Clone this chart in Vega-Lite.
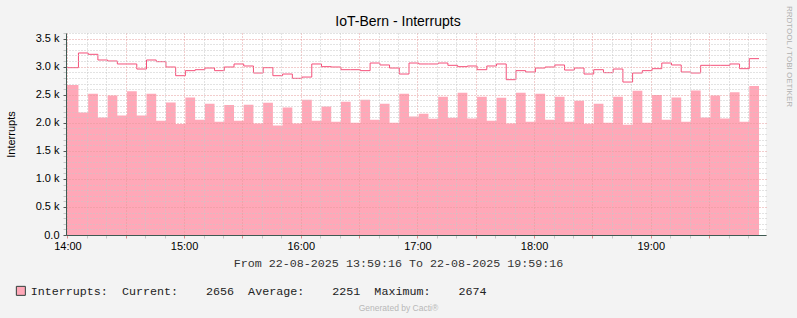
{
  "$schema": "https://vega.github.io/schema/vega-lite/v6.json",
  "width": 700,
  "height": 202,
  "autosize": "none",
  "padding": {"left": 66, "top": 33, "right": 31, "bottom": 83},
  "background": "#f3f3f3",
  "title": {"text": "IoT-Bern - Interrupts", "anchor": "middle", "frame": "group", "dx": -18, "dy": 30, "offset": 6, "font": "Liberation Sans", "fontSize": 14, "fontWeight": "normal", "color": "#000000"},
  "config": {"view": {"fill": "#ffffff", "stroke": null}},
  "data": {"values": [
    {"time": "2025-08-22T13:59:16", "interrupts": 2674, "peak": 2982},
    {"time": "2025-08-22T14:05:40", "interrupts": 2184, "peak": 3244},
    {"time": "2025-08-22T14:10:40", "interrupts": 2518, "peak": 3220},
    {"time": "2025-08-22T14:15:40", "interrupts": 2095, "peak": 3119},
    {"time": "2025-08-22T14:20:40", "interrupts": 2488, "peak": 3101},
    {"time": "2025-08-22T14:25:40", "interrupts": 2131, "peak": 3048},
    {"time": "2025-08-22T14:30:40", "interrupts": 2560, "peak": 3048},
    {"time": "2025-08-22T14:35:40", "interrupts": 2131, "peak": 2958},
    {"time": "2025-08-22T14:40:40", "interrupts": 2518, "peak": 3119},
    {"time": "2025-08-22T14:45:40", "interrupts": 2036, "peak": 3089},
    {"time": "2025-08-22T14:50:40", "interrupts": 2363, "peak": 2994},
    {"time": "2025-08-22T14:55:40", "interrupts": 1976, "peak": 2839},
    {"time": "2025-08-22T15:00:40", "interrupts": 2452, "peak": 2929},
    {"time": "2025-08-22T15:05:40", "interrupts": 2054, "peak": 2946},
    {"time": "2025-08-22T15:10:40", "interrupts": 2339, "peak": 2976},
    {"time": "2025-08-22T15:15:40", "interrupts": 2018, "peak": 2929},
    {"time": "2025-08-22T15:20:40", "interrupts": 2315, "peak": 2994},
    {"time": "2025-08-22T15:25:40", "interrupts": 2036, "peak": 3048},
    {"time": "2025-08-22T15:30:40", "interrupts": 2321, "peak": 3012},
    {"time": "2025-08-22T15:35:40", "interrupts": 1988, "peak": 2887},
    {"time": "2025-08-22T15:40:40", "interrupts": 2357, "peak": 2982},
    {"time": "2025-08-22T15:45:40", "interrupts": 1952, "peak": 2839},
    {"time": "2025-08-22T15:50:40", "interrupts": 2274, "peak": 2869},
    {"time": "2025-08-22T15:55:40", "interrupts": 1988, "peak": 2792},
    {"time": "2025-08-22T16:00:40", "interrupts": 2411, "peak": 2815},
    {"time": "2025-08-22T16:05:40", "interrupts": 2036, "peak": 3048},
    {"time": "2025-08-22T16:10:40", "interrupts": 2292, "peak": 3000},
    {"time": "2025-08-22T16:15:40", "interrupts": 2018, "peak": 2994},
    {"time": "2025-08-22T16:20:40", "interrupts": 2375, "peak": 2946},
    {"time": "2025-08-22T16:25:40", "interrupts": 2000, "peak": 2946},
    {"time": "2025-08-22T16:30:40", "interrupts": 2411, "peak": 2929},
    {"time": "2025-08-22T16:35:40", "interrupts": 2054, "peak": 3065},
    {"time": "2025-08-22T16:40:40", "interrupts": 2339, "peak": 3030},
    {"time": "2025-08-22T16:45:40", "interrupts": 2000, "peak": 2976},
    {"time": "2025-08-22T16:50:40", "interrupts": 2518, "peak": 2869},
    {"time": "2025-08-22T16:55:40", "interrupts": 2113, "peak": 3065},
    {"time": "2025-08-22T17:00:40", "interrupts": 2161, "peak": 3048},
    {"time": "2025-08-22T17:05:40", "interrupts": 2071, "peak": 3048},
    {"time": "2025-08-22T17:10:40", "interrupts": 2464, "peak": 3065},
    {"time": "2025-08-22T17:15:40", "interrupts": 2089, "peak": 3024},
    {"time": "2025-08-22T17:20:40", "interrupts": 2536, "peak": 3000},
    {"time": "2025-08-22T17:25:40", "interrupts": 2077, "peak": 3012},
    {"time": "2025-08-22T17:30:40", "interrupts": 2464, "peak": 2946},
    {"time": "2025-08-22T17:35:40", "interrupts": 2036, "peak": 3012},
    {"time": "2025-08-22T17:40:40", "interrupts": 2446, "peak": 3048},
    {"time": "2025-08-22T17:45:40", "interrupts": 1988, "peak": 2768},
    {"time": "2025-08-22T17:50:40", "interrupts": 2536, "peak": 2929},
    {"time": "2025-08-22T17:55:40", "interrupts": 2018, "peak": 2905},
    {"time": "2025-08-22T18:00:40", "interrupts": 2518, "peak": 2976},
    {"time": "2025-08-22T18:05:40", "interrupts": 2054, "peak": 2994},
    {"time": "2025-08-22T18:10:40", "interrupts": 2464, "peak": 3030},
    {"time": "2025-08-22T18:15:40", "interrupts": 2018, "peak": 2940},
    {"time": "2025-08-22T18:20:40", "interrupts": 2393, "peak": 2976},
    {"time": "2025-08-22T18:25:40", "interrupts": 1982, "peak": 2869},
    {"time": "2025-08-22T18:30:40", "interrupts": 2339, "peak": 2946},
    {"time": "2025-08-22T18:35:40", "interrupts": 2000, "peak": 2893},
    {"time": "2025-08-22T18:40:40", "interrupts": 2464, "peak": 2958},
    {"time": "2025-08-22T18:45:40", "interrupts": 1964, "peak": 2726},
    {"time": "2025-08-22T18:50:40", "interrupts": 2571, "peak": 2887},
    {"time": "2025-08-22T18:55:40", "interrupts": 2000, "peak": 2929},
    {"time": "2025-08-22T19:00:40", "interrupts": 2494, "peak": 2964},
    {"time": "2025-08-22T19:05:40", "interrupts": 2054, "peak": 3065},
    {"time": "2025-08-22T19:10:40", "interrupts": 2452, "peak": 3030},
    {"time": "2025-08-22T19:15:40", "interrupts": 2018, "peak": 2905},
    {"time": "2025-08-22T19:20:40", "interrupts": 2577, "peak": 2887},
    {"time": "2025-08-22T19:25:40", "interrupts": 2095, "peak": 3024},
    {"time": "2025-08-22T19:30:40", "interrupts": 2488, "peak": 3024},
    {"time": "2025-08-22T19:35:40", "interrupts": 2077, "peak": 3024},
    {"time": "2025-08-22T19:40:40", "interrupts": 2542, "peak": 3048},
    {"time": "2025-08-22T19:45:40", "interrupts": 2018, "peak": 2964},
    {"time": "2025-08-22T19:50:40", "interrupts": 2656, "peak": 3143},
    {"time": "2025-08-22T19:55:40", "interrupts": 2656, "peak": 3143}
  ]},
  "resolve": {"axis": {"x": "independent", "y": "independent"}},
  "layer": [
    {
      "mark": {"type": "area", "interpolate": "step-after"},
      "encoding": {
        "x": {
          "field": "time", "type": "temporal",
          "scale": {"domain": [{"year": 2025, "month": 8, "date": 22, "hours": 13, "minutes": 59, "seconds": 16}, {"year": 2025, "month": 8, "date": 22, "hours": 19, "minutes": 59, "seconds": 16}], "nice": false},
          "axis": {
            "orient": "bottom",
            "zindex": 1,
            "values": [
              {"year": 2025, "month": 8, "date": 22, "hours": 14, "minutes": 0},
              {"year": 2025, "month": 8, "date": 22, "hours": 14, "minutes": 10},
              {"year": 2025, "month": 8, "date": 22, "hours": 14, "minutes": 20},
              {"year": 2025, "month": 8, "date": 22, "hours": 14, "minutes": 30},
              {"year": 2025, "month": 8, "date": 22, "hours": 14, "minutes": 40},
              {"year": 2025, "month": 8, "date": 22, "hours": 14, "minutes": 50},
              {"year": 2025, "month": 8, "date": 22, "hours": 15, "minutes": 0},
              {"year": 2025, "month": 8, "date": 22, "hours": 15, "minutes": 10},
              {"year": 2025, "month": 8, "date": 22, "hours": 15, "minutes": 20},
              {"year": 2025, "month": 8, "date": 22, "hours": 15, "minutes": 30},
              {"year": 2025, "month": 8, "date": 22, "hours": 15, "minutes": 40},
              {"year": 2025, "month": 8, "date": 22, "hours": 15, "minutes": 50},
              {"year": 2025, "month": 8, "date": 22, "hours": 16, "minutes": 0},
              {"year": 2025, "month": 8, "date": 22, "hours": 16, "minutes": 10},
              {"year": 2025, "month": 8, "date": 22, "hours": 16, "minutes": 20},
              {"year": 2025, "month": 8, "date": 22, "hours": 16, "minutes": 30},
              {"year": 2025, "month": 8, "date": 22, "hours": 16, "minutes": 40},
              {"year": 2025, "month": 8, "date": 22, "hours": 16, "minutes": 50},
              {"year": 2025, "month": 8, "date": 22, "hours": 17, "minutes": 0},
              {"year": 2025, "month": 8, "date": 22, "hours": 17, "minutes": 10},
              {"year": 2025, "month": 8, "date": 22, "hours": 17, "minutes": 20},
              {"year": 2025, "month": 8, "date": 22, "hours": 17, "minutes": 30},
              {"year": 2025, "month": 8, "date": 22, "hours": 17, "minutes": 40},
              {"year": 2025, "month": 8, "date": 22, "hours": 17, "minutes": 50},
              {"year": 2025, "month": 8, "date": 22, "hours": 18, "minutes": 0},
              {"year": 2025, "month": 8, "date": 22, "hours": 18, "minutes": 10},
              {"year": 2025, "month": 8, "date": 22, "hours": 18, "minutes": 20},
              {"year": 2025, "month": 8, "date": 22, "hours": 18, "minutes": 30},
              {"year": 2025, "month": 8, "date": 22, "hours": 18, "minutes": 40},
              {"year": 2025, "month": 8, "date": 22, "hours": 18, "minutes": 50},
              {"year": 2025, "month": 8, "date": 22, "hours": 19, "minutes": 0},
              {"year": 2025, "month": 8, "date": 22, "hours": 19, "minutes": 10},
              {"year": 2025, "month": 8, "date": 22, "hours": 19, "minutes": 20},
              {"year": 2025, "month": 8, "date": 22, "hours": 19, "minutes": 30},
              {"year": 2025, "month": 8, "date": 22, "hours": 19, "minutes": 40},
              {"year": 2025, "month": 8, "date": 22, "hours": 19, "minutes": 50}
            ],
            "labelExpr": "minutes(datum.value) === 0 ? timeFormat(datum.value, '%H:%M') : ''",
            "labelOverlap": false,
            "labelFlush": false,
            "labelFont": "Liberation Sans",
            "labelFontSize": 11,
            "labelColor": "#000000",
            "labelPadding": 2,
            "grid": true,
            "gridColor": {"condition": {"test": "minutes(datum.value) % 30 === 0", "value": "#e49a9a"}, "value": "#c6c6c6"},
            "gridDash": [1, 2],
            "tickSize": 3,
            "tickColor": {"condition": {"test": "minutes(datum.value) % 30 === 0", "value": "#d98a8a"}, "value": "#c6c6c6"},
            "domainColor": "#3e5a52",
            "title": "From 22-08-2025 13:59:16 To 22-08-2025 19:59:16",
            "titleFont": "Liberation Mono",
            "titleFontSize": 11.7,
            "titleFontWeight": "normal",
            "titleColor": "#333333",
            "titleX": 332,
            "titleY": 27,
            "titleAlign": "center",
            "titleBaseline": "middle"
          }
        },
        "y": {
          "field": "interrupts", "type": "quantitative",
          "scale": {"domain": [0, 3600], "nice": false},
          "axis": {
            "orient": "left",
            "zindex": 1,
            "tickCount": 36,
            "labelExpr": "datum.value === 0 ? '0.0' : (datum.value % 500 === 0 ? format(datum.value / 1000, '.1f') + ' k' : '')",
            "labelOverlap": false,
            "labelFont": "Liberation Sans",
            "labelFontSize": 11,
            "labelColor": "#000000",
            "labelPadding": 4,
            "grid": true,
            "gridColor": {"condition": {"test": "datum.value % 500 === 0", "value": "#e49a9a"}, "value": "#c6c6c6"},
            "gridDash": [1, 2],
            "tickSize": 3,
            "tickColor": {"condition": {"test": "datum.value % 500 === 0", "value": "#555555"}, "value": "#c6c6c6"},
            "domainColor": "#3e5a52",
            "title": "Interrupts",
            "titleFont": "Liberation Sans",
            "titleFontSize": 11,
            "titleFontWeight": "normal",
            "titleColor": "#000000",
            "titleX": -55,
            "titleY": 101,
            "titleAlign": "center",
            "titleBaseline": "middle"
          }
        },
        "color": {
          "datum": "Interrupts",
          "scale": {"range": ["#ffa8b8"]},
          "legend": {
            "orient": "none",
            "legendX": -51,
            "legendY": 252,
            "title": null,
            "symbolType": "square",
            "symbolSize": 81,
            "symbolStrokeColor": "#2f3f3a",
            "symbolStrokeWidth": 1,
            "labelFont": "Liberation Mono",
            "labelFontSize": 11.7,
            "labelColor": "#222222",
            "labelOffset": 4,
            "labelLimit": 700,
            "labelExpr": "'Interrupts:\u00a0\u00a0Current:\u00a0\u00a0\u00a0\u00a02656\u00a0\u00a0Average:\u00a0\u00a0\u00a0\u00a02251\u00a0\u00a0Maximum:\u00a0\u00a0\u00a0\u00a02674'"
          }
        }
      }
    },
    {
      "mark": {"type": "line", "interpolate": "step-after", "color": "#f5507a", "strokeWidth": 1},
      "encoding": {
        "x": {
          "field": "time", "type": "temporal",
          "axis": {
            "orient": "top",
            "domain": false, "ticks": false, "labels": false, "grid": false,
            "title": "Generated by Cacti®",
            "titleFont": "Liberation Sans",
            "titleFontSize": 8.5,
            "titleFontWeight": "normal",
            "titleColor": "#b8b8b8",
            "titleX": 332,
            "titleY": 274,
            "titleAlign": "center",
            "titleBaseline": "middle"
          }
        },
        "y": {
          "field": "peak", "type": "quantitative",
          "axis": {
            "orient": "right",
            "domain": false, "ticks": false, "labels": false, "grid": false,
            "title": "RRDTOOL / TOBI OETIKER",
            "titleFont": "Liberation Sans",
            "titleFontSize": 8,
            "titleFontWeight": "normal",
            "titleColor": "#b0b0b0",
            "titleAngle": 90,
            "titleX": 22,
            "titleY": 23,
            "titleAlign": "center",
            "titleBaseline": "middle"
          }
        }
      }
    }
  ]
}
